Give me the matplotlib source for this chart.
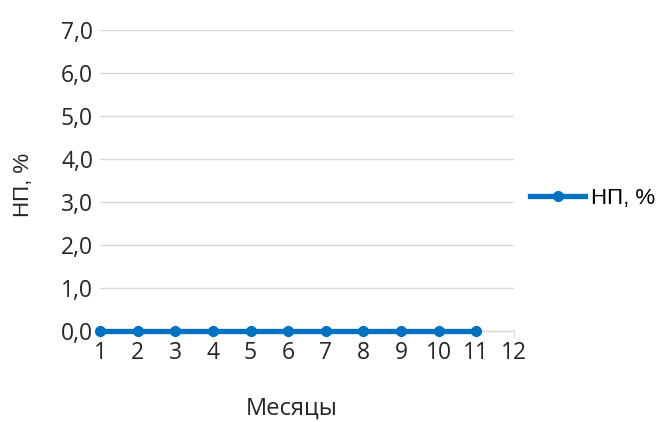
import matplotlib
matplotlib.use("Agg")
import matplotlib.pyplot as plt
from matplotlib.ticker import FuncFormatter

months = [1, 2, 3, 4, 5, 6, 7, 8, 9, 10, 11]
np_pct = [0.0, 0.0, 0.0, 0.0, 0.0, 0.0, 0.0, 0.0, 0.0, 0.0, 0.0]
x_ticks = list(range(1, 13))
y_ticks = [0, 1, 2, 3, 4, 5, 6, 7]

LINE_COLOR = "#0070C0"
GRID_COLOR = "#D9D9D9"
TEXT_COLOR = "#262626"

plt.rcParams["font.family"] = ["Open Sans", "DejaVu Sans"]

fig = plt.figure(figsize=(6.58, 4.22), dpi=100)
# plot area: x=1 at 100px, x=12 at 514px; y=0 at 331px, y=7 at 30px
ax = fig.add_axes([0.152, 0.2156, 0.629, 0.7133])

ax.plot(months, np_pct, color=LINE_COLOR, linewidth=3.8, marker="o",
        markersize=7, label="НП, %", clip_on=False, zorder=5)

ax.set_xlim(1, 12)
ax.set_ylim(0, 7)
ax.set_xticks(x_ticks)
ax.set_yticks(y_ticks)
ax.yaxis.set_major_formatter(FuncFormatter(lambda v, p: f"{v:.1f}".replace(".", ",")))

ax.grid(True, axis="y", color=GRID_COLOR, linewidth=1)
ax.set_axisbelow(True)
for s in ["top", "right", "left"]:
    ax.spines[s].set_visible(False)
ax.spines["bottom"].set_color(GRID_COLOR)
ax.spines["bottom"].set_linewidth(1)

ax.tick_params(axis="y", length=0, pad=5, labelsize=16.5, labelcolor=TEXT_COLOR)
ax.tick_params(axis="x", length=5, color=GRID_COLOR, pad=2, labelsize=16.5,
               labelcolor=TEXT_COLOR)

ax.set_xlabel("Месяцы", fontsize=17, color=TEXT_COLOR, va="center")
ax.xaxis.set_label_coords(0.464, -0.258)
ax.set_ylabel("НП, %", fontsize=16, color=TEXT_COLOR, va="center",
              family=["Liberation Sans", "DejaVu Sans"])
ax.yaxis.set_label_coords(-0.184, 0.485)

ax.legend(loc="center left", bbox_to_anchor=(0.99, 0.441), frameon=False,
          handlelength=2.5, handletextpad=0.25,
          prop={"family": ["Liberation Sans", "DejaVu Sans"], "size": 16})

fig.savefig("out.png", dpi=100)
